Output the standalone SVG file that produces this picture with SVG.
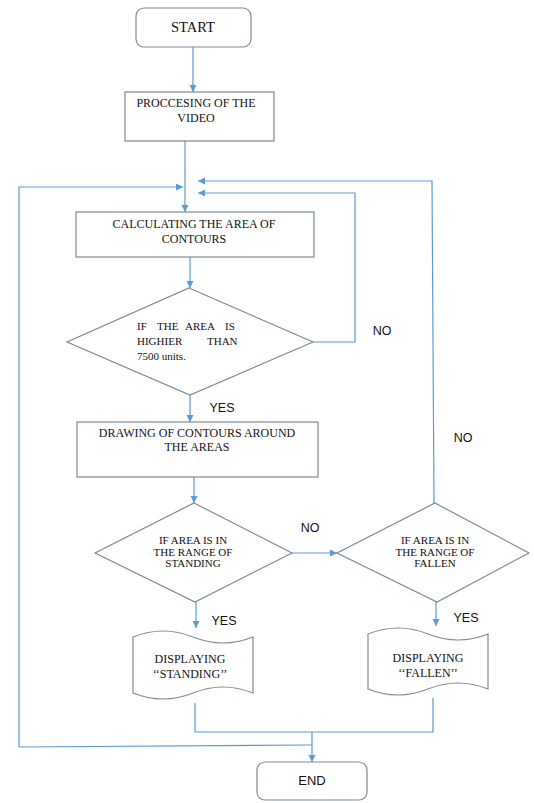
<svg xmlns="http://www.w3.org/2000/svg" width="534" height="803" viewBox="0 0 534 803">
<style>
.box{fill:#fff;stroke:#7d8a97;stroke-width:1.2}
.con{fill:none;stroke:#5b9bd5;stroke-width:1.2}
.serif{font-family:"Liberation Serif","Times New Roman",serif;font-size:12px;fill:#111;text-anchor:middle}
.s11{font-size:11px}
.st{text-anchor:start}
.big{font-size:14.5px}
.sans{font-family:"Liberation Sans",Arial,sans-serif;font-size:12.5px;fill:#111;text-anchor:middle}
</style>
<defs>
<marker id="ah" markerWidth="8" markerHeight="8" refX="7" refY="4" orient="auto" markerUnits="userSpaceOnUse">
<path d="M0,0.5 L7,4 L0,7.5 Z" fill="#5b9bd5"/>
</marker>
</defs>
<rect width="534" height="803" fill="#fff"/>
<g id="connectors">
<path class="con" d="M193,47 V92" marker-end="url(#ah)"/>
<path class="con" d="M185,141 V212" marker-end="url(#ah)"/>
<path class="con" d="M312,745 L19,747 V187 H183" marker-end="url(#ah)"/>
<path class="con" d="M313,342 H355 V193 H198" marker-end="url(#ah)"/>
<path class="con" d="M434,503 L432,181 H198" marker-end="url(#ah)"/>
<path class="con" d="M190,257 V288" marker-end="url(#ah)"/>
<path class="con" d="M190,395 V422" marker-end="url(#ah)"/>
<path class="con" d="M194,477 V503" marker-end="url(#ah)"/>
<path class="con" d="M292,553 H337" marker-end="url(#ah)"/>
<path class="con" d="M196,602 V628" marker-end="url(#ah)"/>
<path class="con" d="M436,602 V626" marker-end="url(#ah)"/>
<path class="con" d="M195,703 V732 H433 V698"/>
<path class="con" d="M312,732 V762" marker-end="url(#ah)"/>
</g>
<g id="start">
<rect class="box" x="136" y="8" width="115" height="39" rx="8"/>
<text class="serif big" x="193" y="32">START</text>
</g>
<g id="processing">
<rect class="box" x="125" y="92" width="149" height="49"/>
<text class="serif" x="196" y="107">PROCCESING OF THE</text>
<text class="serif" x="196" y="122">VIDEO</text>
</g>
<g id="calculating">
<rect class="box" x="76" y="212" width="238" height="45"/>
<text class="serif" x="194" y="228">CALCULATING THE AREA OF</text>
<text class="serif" x="194" y="243">CONTOURS</text>
</g>
<g id="decision-area">
<polygon class="box" points="189,288 313,342 190,395 67,342"/>
<text class="serif s11 st" x="137" y="330">IF</text>
<text class="serif s11 st" x="157" y="330">THE</text>
<text class="serif s11 st" x="185" y="330">AREA</text>
<text class="serif s11 st" x="225" y="330">IS</text>
<text class="serif s11 st" x="137" y="345">HIGHIER</text>
<text class="serif s11 st" x="207" y="345">THAN</text>
<text class="serif s11 st" x="137" y="360">7500 units.</text>
</g>
<g id="drawing">
<rect class="box" x="77" y="422" width="241" height="55"/>
<text class="serif" x="197" y="437">DRAWING OF CONTOURS AROUND</text>
<text class="serif" x="197" y="451">THE AREAS</text>
</g>
<g id="decision-standing">
<polygon class="box" points="194,503 292,553 195,602 95,553"/>
<text class="serif s11" x="193" y="544">IF AREA IS IN</text>
<text class="serif s11" x="193" y="556">THE RANGE OF</text>
<text class="serif s11" x="193" y="567">STANDING</text>
</g>
<g id="decision-fallen">
<polygon class="box" points="435,503 529,553 437,602 337,553"/>
<text class="serif s11" x="435" y="544">IF AREA IS IN</text>
<text class="serif s11" x="435" y="556">THE RANGE OF</text>
<text class="serif s11" x="435" y="567">FALLEN</text>
</g>
<g id="display-standing">
<path class="box" d="M133,637 Q163,625 193,637 T253,637 L253,693 Q223,681 193,693 T133,693 Z"/>
<text class="serif" x="190" y="663">DISPLAYING</text>
<text class="serif" x="190" y="678">‘‘STANDING’’</text>
</g>
<g id="display-fallen">
<path class="box" d="M368,634 Q398,622 428,634 T488,634 L488,689 Q458,677 428,689 T368,689 Z"/>
<text class="serif" x="428" y="662">DISPLAYING</text>
<text class="serif" x="428" y="677">‘‘FALLEN’’</text>
</g>
<g id="end">
<rect class="box" x="257" y="762" width="110" height="38" rx="8"/>
<text class="sans" x="312" y="785" style="font-size:13px">END</text>
</g>
<g id="labels">
<text class="sans" x="382" y="335">NO</text>
<text class="sans" x="463" y="442">NO</text>
<text class="sans" x="222" y="412">YES</text>
<text class="sans" x="310" y="532">NO</text>
<text class="sans" x="224" y="625">YES</text>
<text class="sans" x="466" y="622">YES</text>
</g>
</svg>
